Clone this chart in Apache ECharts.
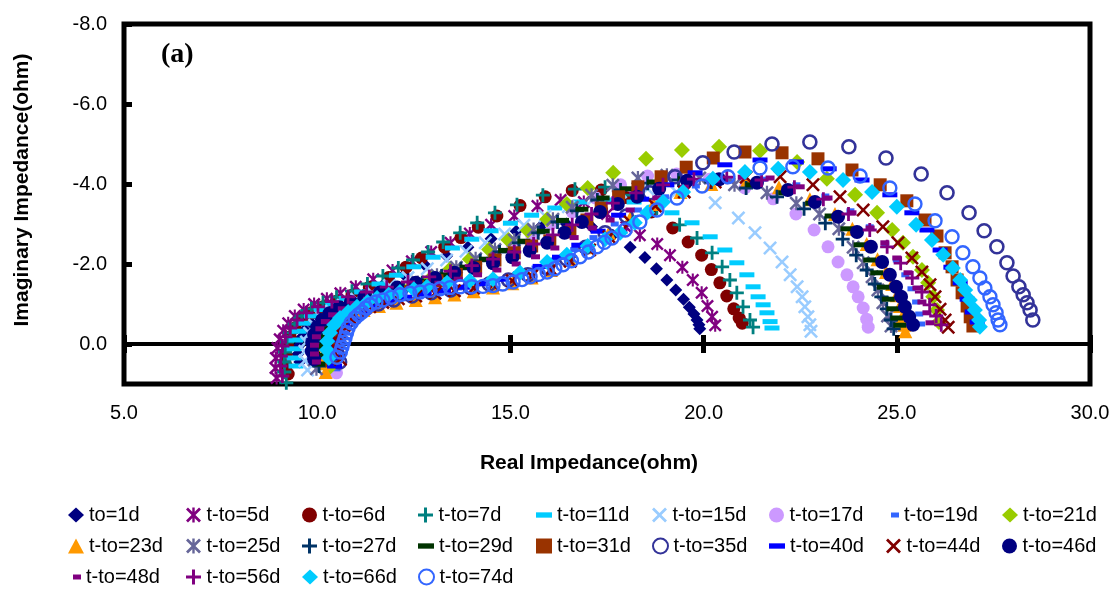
<!DOCTYPE html>
<html>
<head>
<meta charset="utf-8">
<script src="https://cdn.jsdelivr.net/npm/echarts@6/dist/echarts.min.js"></script>
<style>
html, body { margin: 0; padding: 0; background: #fff; }
#chart { width: 1113px; height: 590px; }
</style>
</head>
<body>
<div id="chart"></div>
<script>
// Nyquist impedance spectra, [real, imaginary] in ohm, one array per ageing time.
const day1 = [[9.55,0.45],[9.5,0.25],[9.52,0.05],[9.58,-0.15],[9.68,-0.35],[9.82,-0.55],[10.0,-0.72],[10.25,-0.88],[10.55,-1.02],[10.9,-1.17],[11.3,-1.33],[11.75,-1.52],[12.25,-1.73],[12.8,-1.96],[13.35,-2.2],[13.9,-2.42],[14.5,-2.63],[15.15,-2.82],[15.8,-2.95],[16.45,-3.0],[17.1,-2.93],[17.65,-2.72],[18.1,-2.42],[18.48,-2.16],[18.78,-1.88],[19.05,-1.6],[19.28,-1.35],[19.48,-1.12],[19.63,-0.92],[19.75,-0.75],[19.83,-0.6],[19.88,-0.48],[19.9,-0.38]];
const day5 = [[8.95,0.85],[8.92,0.6],[8.93,0.35],[8.97,0.1],[9.03,-0.12],[9.12,-0.33],[9.25,-0.52],[9.42,-0.7],[9.65,-0.86],[9.92,-1.0],[10.25,-1.13],[10.6,-1.27],[11.0,-1.43],[11.45,-1.62],[11.95,-1.84],[12.45,-2.07],[12.95,-2.3],[13.45,-2.53],[13.95,-2.76],[14.5,-2.98],[15.1,-3.2],[15.7,-3.45],[16.3,-3.6],[16.9,-3.55],[17.5,-3.25],[18.0,-2.92],[18.35,-2.72],[18.8,-2.5],[19.13,-2.22],[19.45,-1.92],[19.72,-1.6],[19.95,-1.28],[20.1,-0.95],[20.22,-0.68],[20.3,-0.47]];
const day6 = [[9.25,0.75],[9.2,0.55],[9.2,0.3],[9.23,0.05],[9.3,-0.18],[9.42,-0.4],[9.6,-0.6],[9.85,-0.78],[10.15,-0.93],[10.5,-1.07],[10.9,-1.22],[11.35,-1.42],[11.85,-1.66],[12.3,-1.92],[12.7,-2.15],[13.3,-2.42],[13.72,-2.66],[14.17,-2.92],[14.65,-3.2],[15.25,-3.46],[15.9,-3.68],[16.6,-3.84],[17.35,-3.85],[18.0,-3.66],[18.65,-3.3],[19.2,-2.9],[19.6,-2.55],[19.95,-2.22],[20.2,-1.86],[20.42,-1.53],[20.6,-1.2],[20.78,-0.88],[20.92,-0.65],[21.0,-0.52]];
const day7 = [[9.2,0.97],[9.15,0.7],[9.15,0.45],[9.17,0.2],[9.22,-0.05],[9.3,-0.28],[9.42,-0.5],[9.6,-0.7],[9.85,-0.88],[10.15,-1.03],[10.5,-1.17],[10.9,-1.32],[11.3,-1.5],[11.7,-1.7],[12.1,-1.9],[12.48,-2.1],[12.87,-2.3],[13.26,-2.55],[13.7,-2.78],[14.14,-3.03],[14.6,-3.28],[15.17,-3.48],[15.84,-3.72],[16.67,-3.87],[17.45,-3.92],[18.15,-3.72],[18.79,-3.4],[19.38,-2.98],[19.83,-2.65],[20.22,-2.28],[20.48,-1.93],[20.68,-1.6],[20.86,-1.28],[21.02,-0.93],[21.2,-0.6],[21.28,-0.42]];
const day11 = [[9.45,0.55],[9.4,0.35],[9.4,0.12],[9.45,-0.1],[9.53,-0.32],[9.66,-0.52],[9.85,-0.7],[10.1,-0.86],[10.4,-1.0],[10.75,-1.14],[11.15,-1.3],[11.6,-1.5],[12.05,-1.72],[12.5,-1.93],[13.0,-2.17],[13.5,-2.4],[14.0,-2.62],[14.5,-2.83],[15.0,-3.02],[15.55,-3.22],[16.15,-3.4],[16.8,-3.55],[17.5,-3.6],[18.2,-3.55],[18.75,-3.42],[19.18,-3.28],[19.7,-3.03],[20.17,-2.68],[20.55,-2.35],[20.86,-2.03],[21.12,-1.73],[21.28,-1.43],[21.41,-1.18],[21.54,-0.98],[21.64,-0.78],[21.72,-0.56],[21.77,-0.4]];
const day15 = [[9.75,0.65],[9.68,0.42],[9.68,0.18],[9.72,-0.05],[9.8,-0.27],[9.93,-0.47],[10.12,-0.65],[10.37,-0.82],[10.67,-0.97],[11.02,-1.12],[11.42,-1.28],[11.87,-1.46],[12.35,-1.66],[12.85,-1.88],[13.35,-2.1],[13.85,-2.32],[14.35,-2.53],[14.85,-2.75],[15.35,-2.97],[15.9,-3.2],[16.5,-3.43],[17.15,-3.63],[17.85,-3.8],[18.55,-3.88],[19.3,-3.8],[20.3,-3.53],[20.9,-3.15],[21.33,-2.78],[21.72,-2.4],[22.03,-2.05],[22.24,-1.73],[22.42,-1.43],[22.55,-1.18],[22.62,-0.93],[22.7,-0.68],[22.75,-0.48],[22.78,-0.32]];
const day17 = [[10.5,0.72],[10.42,0.5],[10.4,0.27],[10.43,0.05],[10.5,-0.17],[10.62,-0.38],[10.8,-0.57],[11.05,-0.75],[11.35,-0.9],[11.7,-1.04],[12.1,-1.18],[12.55,-1.33],[13.05,-1.5],[13.55,-1.7],[14.05,-1.93],[14.55,-2.18],[15.05,-2.45],[15.55,-2.72],[16.05,-3.0],[16.6,-3.3],[17.2,-3.65],[17.85,-3.98],[18.55,-4.2],[19.3,-4.25],[20.15,-4.12],[21.07,-3.9],[21.8,-3.63],[22.39,-3.25],[22.86,-2.85],[23.22,-2.43],[23.48,-2.05],[23.71,-1.73],[23.87,-1.43],[24.0,-1.18],[24.13,-0.9],[24.22,-0.62],[24.26,-0.42]];
const day19 = [[10.5,0.62],[10.44,0.4],[10.44,0.17],[10.48,-0.05],[10.56,-0.26],[10.7,-0.46],[10.9,-0.64],[11.15,-0.79],[11.45,-0.92],[11.8,-1.03],[12.2,-1.13],[12.65,-1.22],[13.15,-1.31],[13.65,-1.4],[14.15,-1.5],[14.65,-1.61],[15.15,-1.74],[15.65,-1.9],[16.15,-2.1],[16.65,-2.36],[17.15,-2.66],[17.7,-3.0],[18.3,-3.35],[19.0,-3.68],[19.8,-3.95],[20.65,-4.1],[21.55,-4.12],[22.4,-3.98],[23.15,-3.7],[23.8,-3.33],[24.3,-2.93],[24.7,-2.5],[25.0,-2.1],[25.22,-1.73],[25.38,-1.38],[25.5,-1.05],[25.58,-0.75],[25.63,-0.5]];
const day21 = [[10.3,0.6],[10.24,0.38],[10.24,0.15],[10.28,-0.08],[10.37,-0.3],[10.5,-0.5],[10.7,-0.68],[10.95,-0.84],[11.25,-0.98],[11.6,-1.12],[12.0,-1.27],[12.45,-1.45],[12.95,-1.65],[13.45,-1.88],[13.95,-2.12],[14.45,-2.36],[14.95,-2.6],[15.45,-2.84],[15.95,-3.12],[16.46,-3.5],[17.0,-3.9],[17.66,-4.28],[18.51,-4.63],[19.44,-4.85],[20.4,-4.93],[21.46,-4.83],[22.42,-4.55],[23.19,-4.13],[23.92,-3.73],[24.49,-3.28],[24.88,-2.85],[25.16,-2.53],[25.42,-2.18],[25.65,-1.85],[25.81,-1.53],[25.94,-1.18],[26.04,-0.85],[26.09,-0.55]];
const day23 = [[10.22,0.7],[10.16,0.48],[10.16,0.25],[10.2,0.02],[10.28,-0.2],[10.42,-0.4],[10.62,-0.58],[10.88,-0.73],[11.2,-0.85],[11.6,-0.95],[12.05,-1.03],[12.55,-1.1],[13.05,-1.17],[13.55,-1.24],[14.05,-1.32],[14.55,-1.41],[15.05,-1.52],[15.55,-1.66],[16.05,-1.85],[16.55,-2.1],[17.05,-2.42],[17.55,-2.78],[18.1,-3.15],[18.7,-3.5],[19.4,-3.8],[20.2,-4.0],[21.1,-4.05],[21.95,-3.92],[22.75,-3.62],[23.4,-3.25],[23.85,-2.88],[24.22,-2.5],[24.5,-2.12],[24.72,-1.8],[24.88,-1.5],[25.0,-1.22],[25.08,-0.95],[25.15,-0.7],[25.2,-0.48],[25.22,-0.32]];
const day25 = [[9.98,0.62],[9.92,0.4],[9.92,0.17],[9.96,-0.06],[10.04,-0.28],[10.17,-0.48],[10.36,-0.66],[10.6,-0.82],[10.9,-0.96],[11.25,-1.09],[11.65,-1.22],[12.1,-1.37],[12.6,-1.54],[13.1,-1.72],[13.6,-1.92],[14.1,-2.13],[14.6,-2.36],[15.1,-2.6],[15.6,-2.86],[16.1,-3.12],[16.6,-3.42],[17.1,-3.72],[17.65,-3.97],[18.3,-4.15],[19.05,-4.22],[19.9,-4.15],[20.8,-3.98],[21.64,-3.78],[22.4,-3.52],[23.0,-3.25],[23.5,-2.88],[23.87,-2.42],[24.13,-2.03],[24.36,-1.68],[24.51,-1.35],[24.64,-1.03],[24.76,-0.7],[24.85,-0.45]];
const day27 = [[10.05,0.55],[9.99,0.33],[9.99,0.1],[10.03,-0.12],[10.12,-0.33],[10.26,-0.52],[10.46,-0.69],[10.72,-0.84],[11.02,-0.97],[11.38,-1.1],[11.78,-1.23],[12.23,-1.37],[12.72,-1.53],[13.22,-1.7],[13.72,-1.88],[14.22,-2.08],[14.72,-2.3],[15.22,-2.53],[15.72,-2.78],[16.22,-3.05],[16.72,-3.33],[17.25,-3.6],[17.85,-3.85],[18.55,-4.02],[19.35,-4.1],[20.2,-4.05],[21.1,-3.9],[21.9,-3.68],[22.6,-3.38],[23.15,-3.02],[23.6,-2.62],[23.95,-2.22],[24.22,-1.85],[24.43,-1.5],[24.6,-1.18],[24.74,-0.88],[24.85,-0.6],[24.92,-0.38]];
const day29 = [[10.1,0.5],[10.04,0.28],[10.05,0.05],[10.1,-0.17],[10.2,-0.38],[10.35,-0.57],[10.56,-0.74],[10.82,-0.88],[11.13,-1.01],[11.5,-1.13],[11.9,-1.26],[12.35,-1.4],[12.85,-1.56],[13.35,-1.73],[13.85,-1.92],[14.35,-2.12],[14.85,-2.34],[15.35,-2.57],[15.85,-2.82],[16.35,-3.09],[16.85,-3.37],[17.4,-3.65],[18.0,-3.88],[18.7,-4.05],[19.5,-4.13],[20.35,-4.1],[21.25,-3.98],[22.1,-3.78],[22.8,-3.52],[23.3,-3.2],[23.71,-2.88],[24.05,-2.48],[24.3,-2.1],[24.48,-1.78],[24.65,-1.42],[24.78,-1.12],[24.9,-0.88],[25.0,-0.65],[25.08,-0.47]];
const day31 = [[10.38,0.42],[10.33,0.2],[10.34,-0.02],[10.4,-0.23],[10.5,-0.43],[10.65,-0.61],[10.85,-0.78],[11.1,-0.92],[11.4,-1.05],[11.75,-1.17],[12.15,-1.3],[12.6,-1.43],[13.1,-1.58],[13.6,-1.74],[14.1,-1.92],[14.6,-2.1],[15.1,-2.28],[15.55,-2.45],[16.02,-2.58],[16.54,-2.8],[16.98,-3.1],[17.35,-3.4],[17.8,-3.68],[18.3,-3.93],[18.9,-4.18],[19.55,-4.42],[20.25,-4.65],[21.07,-4.8],[22.03,-4.78],[22.96,-4.63],[23.84,-4.35],[24.57,-3.98],[25.26,-3.58],[25.73,-3.1],[26.04,-2.7],[26.25,-2.28],[26.43,-1.93],[26.56,-1.6],[26.69,-1.28],[26.82,-0.95],[26.9,-0.68],[26.97,-0.45]];
const day35 = [[10.58,0.45],[10.52,0.25],[10.52,0.03],[10.56,-0.18],[10.64,-0.38],[10.78,-0.57],[10.98,-0.74],[11.25,-0.88],[11.58,-1.0],[11.98,-1.1],[12.45,-1.2],[12.95,-1.28],[13.45,-1.35],[13.95,-1.42],[14.45,-1.5],[14.95,-1.6],[15.45,-1.73],[15.95,-1.9],[16.45,-2.13],[16.95,-2.42],[17.45,-2.78],[18.0,-3.2],[18.61,-3.78],[19.26,-4.18],[19.98,-4.53],[20.79,-4.8],[21.77,-5.0],[22.75,-5.05],[23.76,-4.93],[24.72,-4.65],[25.63,-4.25],[26.3,-3.78],[26.87,-3.28],[27.26,-2.83],[27.59,-2.43],[27.85,-2.03],[28.01,-1.7],[28.16,-1.43],[28.27,-1.23],[28.37,-1.03],[28.45,-0.85],[28.52,-0.6]];
const day40 = [[10.45,0.55],[10.4,0.33],[10.4,0.1],[10.44,-0.12],[10.52,-0.32],[10.66,-0.51],[10.86,-0.68],[11.12,-0.83],[11.44,-0.96],[11.82,-1.07],[12.27,-1.17],[12.77,-1.26],[13.27,-1.34],[13.77,-1.42],[14.27,-1.51],[14.77,-1.62],[15.27,-1.76],[15.77,-1.94],[16.27,-2.17],[16.77,-2.47],[17.27,-2.82],[17.8,-3.22],[18.4,-3.62],[19.05,-3.98],[19.78,-4.28],[20.55,-4.48],[21.46,-4.6],[22.4,-4.55],[23.25,-4.38],[24.1,-4.1],[24.82,-3.73],[25.39,-3.28],[25.78,-2.85],[26.12,-2.35],[26.4,-1.92],[26.64,-1.53],[26.82,-1.12],[26.95,-0.8],[27.08,-0.55]];
const day44 = [[10.6,0.38],[10.54,0.17],[10.55,-0.05],[10.6,-0.26],[10.7,-0.46],[10.86,-0.64],[11.08,-0.8],[11.36,-0.93],[11.7,-1.04],[12.1,-1.13],[12.55,-1.2],[13.05,-1.27],[13.55,-1.33],[14.05,-1.4],[14.55,-1.48],[15.05,-1.58],[15.55,-1.7],[16.05,-1.86],[16.55,-2.07],[17.05,-2.35],[17.55,-2.68],[18.1,-3.05],[18.75,-3.45],[19.5,-3.8],[20.3,-4.05],[21.1,-4.17],[21.98,-4.18],[22.83,-3.98],[23.53,-3.68],[24.13,-3.35],[24.64,-2.93],[25.03,-2.53],[25.39,-2.15],[25.65,-1.8],[25.86,-1.48],[25.99,-1.18],[26.12,-0.87],[26.25,-0.6],[26.33,-0.42]];
const day46 = [[9.92,0.38],[9.86,0.18],[9.87,-0.03],[9.92,-0.23],[10.0,-0.42],[10.13,-0.6],[10.32,-0.77],[10.57,-0.92],[10.87,-1.05],[11.22,-1.17],[11.62,-1.29],[12.07,-1.41],[12.55,-1.53],[13.05,-1.65],[13.55,-1.78],[14.05,-1.9],[14.55,-2.02],[15.05,-2.17],[15.5,-2.33],[15.95,-2.53],[16.4,-2.78],[16.85,-3.05],[17.32,-3.3],[17.78,-3.5],[18.28,-3.68],[18.85,-3.88],[19.57,-4.08],[20.4,-4.12],[21.38,-4.03],[22.18,-3.85],[22.88,-3.55],[23.48,-3.18],[23.97,-2.8],[24.33,-2.43],[24.62,-2.05],[24.82,-1.73],[24.98,-1.43],[25.11,-1.18],[25.21,-0.93],[25.32,-0.68],[25.42,-0.48]];
const day48 = [[9.98,0.45],[9.93,0.25],[9.93,0.03],[9.98,-0.18],[10.07,-0.38],[10.21,-0.56],[10.4,-0.73],[10.65,-0.88],[10.95,-1.01],[11.3,-1.12],[11.7,-1.22],[12.15,-1.32],[12.65,-1.42],[13.15,-1.52],[13.65,-1.62],[14.15,-1.73],[14.65,-1.85],[15.15,-2.0],[15.65,-2.18],[16.15,-2.4],[16.65,-2.66],[17.12,-2.9],[17.58,-3.1],[18.1,-3.35],[18.79,-3.65],[19.5,-3.92],[20.3,-4.1],[21.0,-4.17],[21.72,-4.15],[22.5,-3.93],[23.22,-3.65],[23.84,-3.28],[24.31,-2.9],[24.69,-2.53],[25.0,-2.15],[25.29,-1.78],[25.52,-1.4],[25.65,-1.05],[25.78,-0.78],[25.86,-0.53]];
const day56 = [[9.1,0.8],[9.05,0.55],[9.06,0.3],[9.1,0.05],[9.18,-0.18],[9.3,-0.4],[9.48,-0.6],[9.72,-0.78],[10.02,-0.93],[10.38,-1.06],[10.8,-1.18],[11.28,-1.3],[11.8,-1.42],[12.35,-1.55],[12.9,-1.68],[13.45,-1.82],[14.0,-1.96],[14.55,-2.12],[15.1,-2.3],[15.6,-2.5],[16.1,-2.73],[16.6,-2.98],[17.1,-3.25],[17.65,-3.52],[18.25,-3.78],[18.95,-3.98],[19.75,-4.12],[20.6,-4.17],[21.5,-4.1],[22.35,-3.92],[23.1,-3.62],[23.75,-3.25],[24.3,-2.85],[24.75,-2.43],[25.1,-2.02],[25.4,-1.65],[25.65,-1.3],[25.85,-0.98],[26.02,-0.7],[26.15,-0.48]];
const day66 = [[10.3,0.35],[10.25,0.15],[10.26,-0.07],[10.33,-0.28],[10.44,-0.48],[10.59,-0.65],[10.8,-0.8],[11.03,-0.93],[11.3,-1.05],[11.55,-1.15],[11.85,-1.23],[12.14,-1.3],[12.5,-1.37],[12.84,-1.43],[13.36,-1.53],[13.95,-1.58],[14.55,-1.62],[15.25,-1.78],[15.95,-2.05],[16.46,-2.23],[17.0,-2.45],[17.45,-2.62],[17.84,-2.78],[18.22,-3.03],[18.54,-3.28],[18.95,-3.55],[19.47,-3.8],[20.24,-4.13],[21.07,-4.3],[21.93,-4.38],[22.75,-4.3],[23.61,-4.1],[24.36,-3.8],[25.0,-3.43],[25.5,-2.98],[25.91,-2.6],[26.2,-2.23],[26.45,-1.9],[26.64,-1.6],[26.77,-1.35],[26.89,-1.1],[27.02,-0.85],[27.13,-0.6],[27.15,-0.43]];
const day74 = [[10.51,0.33],[10.6,0.2],[10.64,0.08],[10.68,-0.04],[10.72,-0.15],[10.76,-0.28],[10.8,-0.4],[10.88,-0.53],[10.98,-0.65],[11.07,-0.73],[11.16,-0.8],[11.26,-0.9],[11.37,-0.98],[11.52,-1.05],[11.7,-1.1],[11.92,-1.17],[12.14,-1.23],[12.4,-1.27],[12.66,-1.3],[12.92,-1.34],[13.18,-1.38],[13.44,-1.41],[13.7,-1.43],[14.0,-1.43],[14.29,-1.44],[14.55,-1.46],[14.8,-1.5],[15.07,-1.55],[15.3,-1.61],[15.51,-1.68],[15.73,-1.74],[15.95,-1.8],[16.15,-1.88],[16.36,-1.98],[16.58,-2.08],[16.8,-2.18],[17.02,-2.3],[17.24,-2.43],[17.43,-2.54],[17.63,-2.65],[17.97,-2.85],[18.35,-3.05],[18.79,-3.35],[19.31,-3.65],[19.96,-3.95],[20.63,-4.18],[21.46,-4.4],[22.31,-4.43],[23.22,-4.4],[24.05,-4.2],[24.82,-3.9],[25.47,-3.5],[25.99,-3.08],[26.43,-2.68],[26.71,-2.28],[26.97,-1.93],[27.15,-1.65],[27.28,-1.4],[27.41,-1.18],[27.49,-0.98],[27.57,-0.78],[27.62,-0.6],[27.67,-0.48]];

// Legend labels, in drawing order.
const seriesNames = ['to=1d','t-to=5d','t-to=6d','t-to=7d','t-to=11d','t-to=15d','t-to=17d','t-to=19d','t-to=21d',
  't-to=23d','t-to=25d','t-to=27d','t-to=29d','t-to=31d','t-to=35d','t-to=40d','t-to=44d','t-to=46d',
  't-to=48d','t-to=56d','t-to=66d','t-to=74d'];
const seriesData = [day1, day5, day6, day7, day11, day15, day17, day19, day21,
  day23, day25, day27, day29, day31, day35, day40, day44, day46,
  day48, day56, day66, day74];

// Axis ranges and tick steps.
const xRange = [5, 30], xStep = 5;
const yRange = [-8, 1], yStep = 2;

// Marker shapes.
const PLUS = 'path://M4,0H6V4H10V6H6V10H4V6H0V4H4Z';
const CROSS = 'path://M0,1.3L1.3,0L5,3.7L8.7,0L10,1.3L6.3,5L10,8.7L8.7,10L5,6.3L1.3,10L0,8.7L3.7,5Z';
const STAR = 'path://M0,1.3L1.3,0L5,3.7L8.7,0L10,1.3L6.3,5L10,8.7L8.7,10L5,6.3L1.3,10L0,8.7L3.7,5Z M4.2,0H5.8V10H4.2Z';
const DASH = 'path://M0,0H3V1H0Z';
const SHORT_DASH = 'path://M0,0H8V5H0Z';

const styles = [
  { symbol: 'diamond', size: 13, color: '#000080' },
  { symbol: STAR, size: 13, color: '#800080' },
  { symbol: 'circle', size: 13, color: '#800000' },
  { symbol: PLUS, size: 14, color: '#008080' },
  { symbol: DASH, size: [15, 5], color: '#00CCFF' },
  { symbol: CROSS, size: 14, color: '#99CCFF' },
  { symbol: 'circle', size: 13, color: '#CC99FF' },
  { symbol: SHORT_DASH, size: [8, 5], color: '#3366FF', legendW: 8 },
  { symbol: 'diamond', size: 16, color: '#99CC00' },
  { symbol: 'triangle', size: 14, color: '#FF9900' },
  { symbol: STAR, size: 14, color: '#666699' },
  { symbol: PLUS, size: 14, color: '#003366' },
  { symbol: DASH, size: [13, 5], color: '#003300' },
  { symbol: 'rect', size: 13, color: '#993300' },
  { symbol: 'circle', size: 13, color: '#333399', open: 2.6 },
  { symbol: DASH, size: [15, 5], color: '#0000FF' },
  { symbol: CROSS, size: 14, color: '#800000' },
  { symbol: 'circle', size: 14, color: '#000080' },
  { symbol: SHORT_DASH, size: [9, 5], color: '#800080', legendW: 8 },
  { symbol: PLUS, size: 14, color: '#800080' },
  { symbol: 'diamond', size: 16, color: '#00CCFF' },
  { symbol: 'circle', size: 13, color: '#3366FF', open: 2.4 }
];

const FONT = '"Liberation Sans", Arial, sans-serif';
const fmt1 = v => v.toFixed(1);

const series = seriesNames.map((name, i) => {
  const s = styles[i];
  const itemStyle = s.open
    ? { color: 'rgba(0,0,0,0)', borderColor: s.color, borderWidth: s.open, opacity: 1 }
    : { color: s.color, opacity: 1 };
  return {
    name, type: 'scatter', data: seriesData[i],
    symbol: s.symbol, symbolSize: s.size, itemStyle,
    xAxisIndex: 0, yAxisIndex: 0, silent: true,
    emphasis: { disabled: true }
  };
});

// Legend laid out as a 9-column table, one component per entry.
const colX = [68, 186, 302, 418, 536, 652, 769, 886, 1002];
const rowY = [515, 546, 577];
const legends = seriesNames.map((name, i) => {
  const row = Math.floor(i / 9), col = i % 9;
  const w = styles[i].legendW || 16;
  return {
    left: colX[col] + (16 - w) - (w < 16 ? 3 : 0), top: rowY[row] - 11,
    padding: 0, itemWidth: w, itemHeight: 15, itemGap: 0,
    selectedMode: false, data: [name],
    itemStyle: { opacity: 1 },
    textStyle: { fontSize: 20, color: '#000', fontFamily: FONT, lineHeight: 22 }
  };
});

const xBase = { type: 'value', min: xRange[0], max: xRange[1], interval: xStep, splitLine: { show: false } };

const chart = echarts.init(document.getElementById('chart'), null, { renderer: 'canvas' });
chart.setOption({
  animation: false,
  backgroundColor: '#fff',
  grid: { left: 124, right: 23, top: 24, bottom: 206, show: true, borderColor: '#000', borderWidth: 5, backgroundColor: 'transparent' },
  xAxis: [
    Object.assign({}, xBase, {
      position: 'bottom',
      axisLine: { show: false, onZero: false },
      axisTick: { show: false },
      axisLabel: { formatter: fmt1, fontSize: 20, color: '#000', fontFamily: FONT, margin: 19 }
    }),
    Object.assign({}, xBase, {
      axisLine: { show: true, onZero: true, onZeroAxisIndex: 0, lineStyle: { color: '#000', width: 4 } },
      axisTick: { show: true, inside: true, length: 9, lineStyle: { color: '#000', width: 5 } },
      axisLabel: { show: false }
    }),
    Object.assign({}, xBase, {
      axisLine: { show: false, onZero: true, onZeroAxisIndex: 0 },
      axisTick: { show: true, inside: false, length: 9, lineStyle: { color: '#000', width: 5 } },
      axisLabel: { show: false }
    })
  ],
  yAxis: {
    type: 'value', inverse: true, min: yRange[0], max: yRange[1], interval: yStep,
    axisLine: { show: false },
    axisTick: { show: true, inside: true, length: 8, lineStyle: { color: '#000', width: 5 } },
    axisLabel: { formatter: fmt1, fontSize: 20, color: '#000', fontFamily: FONT, margin: 17, showMaxLabel: false },
    splitLine: { show: false }
  },
  legend: legends,
  graphic: [
    { type: 'text', x: 161, y: 55, style: { text: '(a)', font: 'bold 28px "Liberation Serif", "Times New Roman", serif', fill: '#000', textVerticalAlign: 'middle' } },
    { type: 'text', x: 589, y: 463, style: { text: 'Real Impedance(ohm)', font: 'bold 21px ' + FONT, fill: '#000', textAlign: 'center', textVerticalAlign: 'middle' } },
    { type: 'text', x: 22, y: 190, rotation: Math.PI / 2, style: { text: 'Imaginary Impedance(ohm)', font: 'bold 21px ' + FONT, fill: '#000', textAlign: 'center', textVerticalAlign: 'middle' } }
  ],
  series
});
</script>
</body>
</html>
